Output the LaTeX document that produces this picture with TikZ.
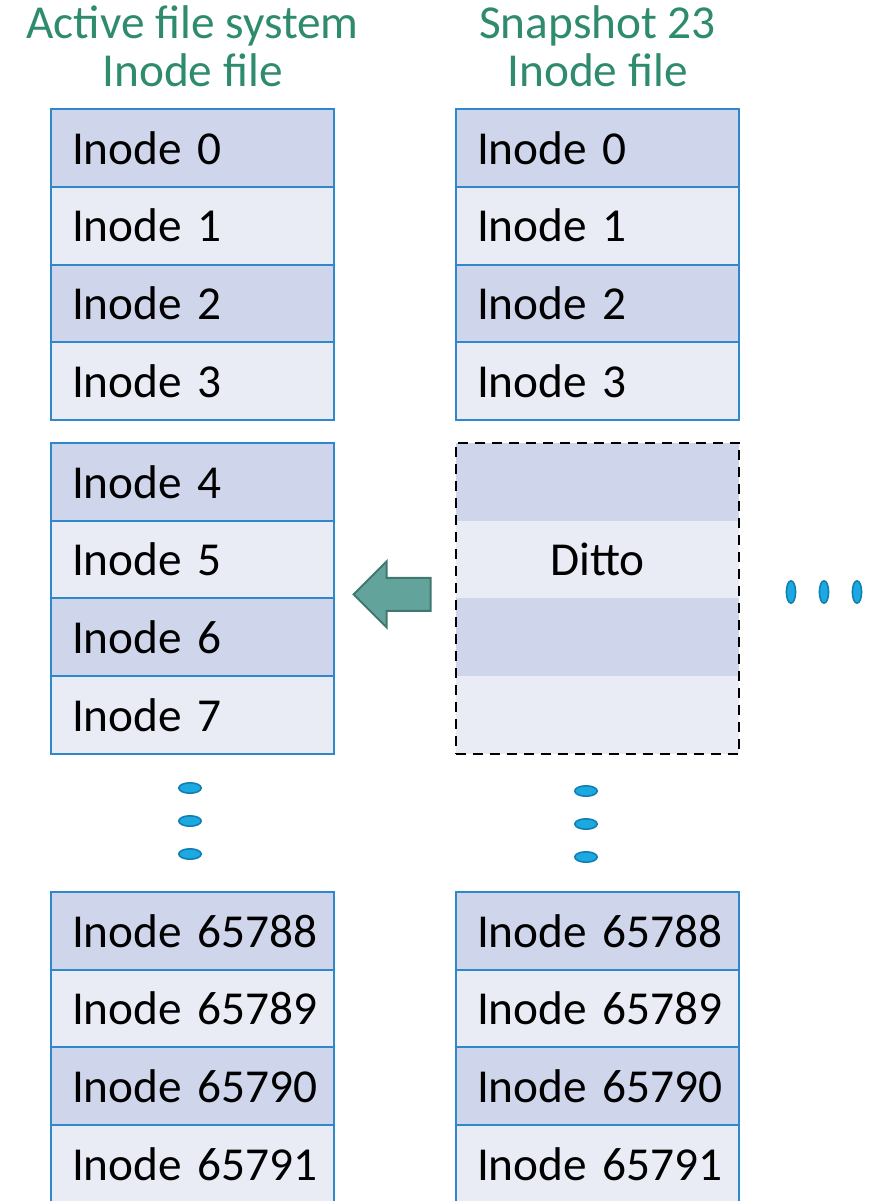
\documentclass[tikz,border=0pt]{standalone}
\usepackage{fontspec}
\setmainfont{Carlito}
\usetikzlibrary{positioning,calc,fit}
\definecolor{celldark}{HTML}{CFD5EA}
\definecolor{celllight}{HTML}{E9EBF5}
\definecolor{cellblue}{HTML}{2F87CC}
\definecolor{titlegreen}{HTML}{2E8B6E}
\definecolor{arrowfill}{HTML}{62A39B}
\definecolor{arrowedge}{HTML}{41776F}
\definecolor{dotfill}{HTML}{1CA9E2}
\definecolor{dotedge}{HTML}{127FB2}
\newcommand{\inodefont}{\fontsize{23.65}{24}\selectfont}
\tikzset{
  cell/.style={draw=cellblue, line width=1pt, text width=120.5pt, inner xsep=10.5pt,
    inner ysep=0pt, minimum height=38.85pt, align=left, font=\inodefont},
  band/.style={minimum width=141.5pt, minimum height=38.85pt, inner sep=0pt, font=\inodefont},
  heading/.style={align=center, inner sep=0pt, text=titlegreen, font=\inodefont},
  dittobox/.style={draw=black, line width=1pt, dash pattern=on 5pt off 3.5pt, inner sep=0pt},
  blockarrow/.style={fill=arrowfill, draw=arrowedge, line width=1pt, line join=miter},
  dot/.style={fill=dotfill, draw=dotedge, line width=0.8pt}
}
\begin{document}
\begin{tikzpicture}[x=0.5pt, y=-0.5pt]
  \useasboundingbox (0,0) rectangle (874,1201);
  % active file system inode file
  \foreach \n/\y/\shade in {0/148.0/celldark, 1/225.7/celllight, 2/303.4/celldark, 3/381.1/celllight,
      4/481.8/celldark, 5/559.5/celllight, 6/637.2/celldark, 7/714.9/celllight,
      65788/930.8/celldark, 65789/1008.5/celllight, 65790/1086.2/celldark, 65791/1163.9/celllight}
    \node[cell, fill=\shade] (a\n) at (192.5,\y) {\mbox{Inode \n}};
  \node[heading, above=10.5pt of a0] (atitle) {Active file system\\Inode file};
  % snapshot 23 inode file
  \foreach \n/\y/\shade in {0/148.0/celldark, 1/225.7/celllight, 2/303.4/celldark, 3/381.1/celllight,
      65788/930.8/celldark, 65789/1008.5/celllight, 65790/1086.2/celldark, 65791/1163.9/celllight}
    \node[cell, fill=\shade] (s\n) at (597.5,\y) {\mbox{Inode \n}};
  \node[heading, above=10.5pt of s0] (stitle) {Snapshot 23\\Inode file};
  % shared blocks
  \node[band, fill=celldark] (d0) at (597.5,481.8) {};
  \node[band, fill=celllight] (d1) at (597.5,559.5) {Ditto};
  \node[band, fill=celldark] (d2) at (597.5,637.2) {};
  \node[band, fill=celllight] (d3) at (597.5,714.9) {};
  \node[dittobox, fit=(d0)(d3)] (ditto) {};
  % arrow back to the active inodes
  \coordinate (tail) at ($(ditto.west)+(-24,-4)$);
  \draw[blockarrow] (tail) ++(0,-16.5) -- ++(-44,0) -- ++(0,-16.5) -- ++(-33,33)
    -- ++(33,33) -- ++(0,-16.5) -- ++(44,0) -- cycle;
  % ellipsis dots
  \foreach \y in {788,821,854}
    \filldraw[dot] (190,\y) ellipse [x radius=5.6pt, y radius=2.6pt];
  \foreach \y in {791,824,857}
    \filldraw[dot] (586,\y) ellipse [x radius=5.6pt, y radius=2.6pt];
  \foreach \x in {791,824,857}
    \filldraw[dot] (\x,592) ellipse [x radius=2.3pt, y radius=5.6pt];
\end{tikzpicture}
\end{document}
